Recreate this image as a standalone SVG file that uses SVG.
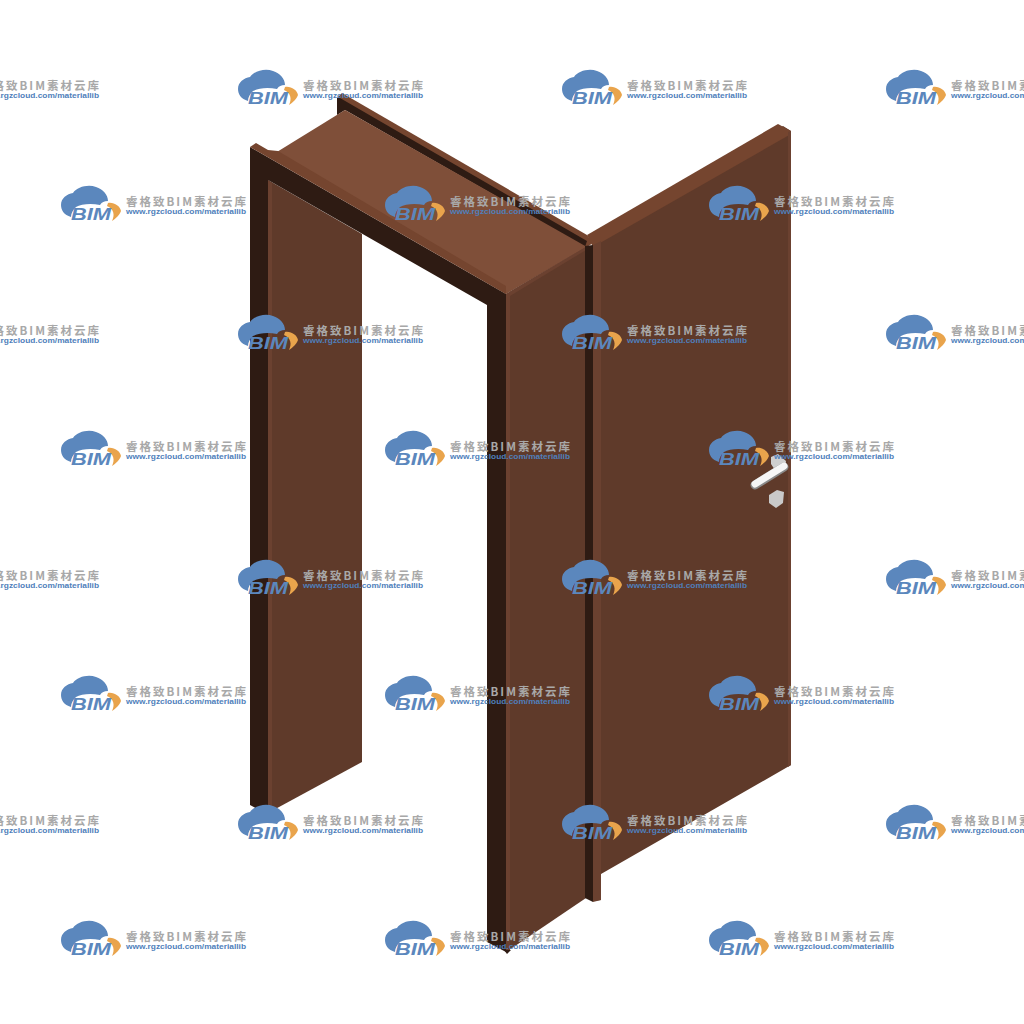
<svg xmlns="http://www.w3.org/2000/svg" xmlns:xlink="http://www.w3.org/1999/xlink" width="1024" height="1024" viewBox="0 0 1024 1024">
<style>
.dark{fill:#2e1b13}.side{fill:#5f3a2a}.top{fill:#7f4f39}.rim{fill:#75452f}.edge{fill:#6b4130}
.cn{font-family:"Noto Sans CJK SC","Liberation Sans",sans-serif;font-size:11.500px;font-weight:700;fill:#a8a8a8}
.url{font-family:"Liberation Sans",sans-serif;font-size:7.600px;font-weight:700;fill:#4f7fbb}
.bim{font-family:"Liberation Sans",sans-serif;font-size:16.500px;font-weight:700;font-style:italic;fill:#5b87bd}
</style>
<defs>
<g id="wm">
<path d="M10 31C3 29 0 24 0 19C0 12 6 8 12 7C16 1 27-2 35 1C42 3 47 9 47 15C43 15 41 16 39 19C30 17 20 18 15 21C12 24 10 27 10 31Z" fill="#5b87bd"/>
<path d="M47 17C53 16 59 20 60 25C58 30 55 32 51 35C54 29 53 23 46 20Z" fill="#e9a44c"/>
<text class="bim" x="10" y="33.500" textLength="40" lengthAdjust="spacingAndGlyphs">BIM</text>
<text class="cn" x="65" y="20" textLength="120" lengthAdjust="spacing">睿格致BIM素材云库</text>
<text class="url" x="65" y="28" textLength="120" lengthAdjust="spacingAndGlyphs">www.rgzcloud.com/materiallib</text>
</g>
</defs>
<rect width="1024" height="1024" fill="#fff"/>
<g id="door-frame">
<path class="rim" d="M337 98L342 93L587 235L593 243L587 247L585 246Z"/>
<path class="dark" d="M337 98L340 98L587 241L585 247L345 110L337 115Z"/>
<path class="top" d="M272 155L345 110L587 247L506 294Z"/>
<path class="side" d="M268 180L362 234L362 762L268 813Z"/>
<path class="edge" d="M268 180L272 183L272 811L268 813Z"/>
<path class="dark" d="M250 147L506 294L506 952L487 942L487 305L268 180L268 815L250 805Z"/>
<path class="rim" d="M250 147L256 143L268 150L278 151L506 286L506 294Z"/>
<path class="side" d="M506 294L586 247L586 898L506 952Z"/>
<path class="edge" d="M506 294L586 247L586 250L510 296L510 950L506 952Z"/>
</g>
<g id="door-leaf">
<path class="side" d="M593 243L783 126L791 131L791 765L601 874L601 900L593 901Z"/>
<path class="rim" d="M587 235L778 124L791 131L791 134L593 247Z"/>
<path class="dark" d="M585 246L593 245L593 902L585 898Z"/>
<path class="edge" d="M593 245L601 241L601 900L593 902Z"/>
<path class="edge" d="M788 132L791 131L791 765L788 767Z"/>
<path class="dark" d="M504 950L507 954L511 950Z"/>
</g>
<g id="handle">
<path d="M771 457L778 454L786 461L785 468L775 470L771 464Z" fill="#cfcfcf"/>
<path d="M755 485L784 467" fill="none" stroke="#8a8a8a" stroke-width="9" stroke-linecap="round"/>
<path d="M755 484L784 466" fill="none" stroke="#f6f6f6" stroke-width="7" stroke-linecap="round"/>
<path d="M769 495L777 490L784 492L783 503L776 508L769 503Z" fill="#c9c9c9"/>
</g>
<g id="watermarks">
<use xlink:href="#wm" href="#wm" x="-86" y="70"/><use href="#wm" x="238" y="70"/><use href="#wm" x="562" y="70"/><use href="#wm" x="886" y="70"/>
<use href="#wm" x="61" y="186"/><use href="#wm" x="385" y="186"/><use href="#wm" x="709" y="186"/>
<use href="#wm" x="-86" y="315"/><use href="#wm" x="238" y="315"/><use href="#wm" x="562" y="315"/><use href="#wm" x="886" y="315"/>
<use href="#wm" x="61" y="431"/><use href="#wm" x="385" y="431"/><use href="#wm" x="709" y="431"/>
<use href="#wm" x="-86" y="560"/><use href="#wm" x="238" y="560"/><use href="#wm" x="562" y="560"/><use href="#wm" x="886" y="560"/>
<use href="#wm" x="61" y="676"/><use href="#wm" x="385" y="676"/><use href="#wm" x="709" y="676"/>
<use href="#wm" x="-86" y="805"/><use href="#wm" x="238" y="805"/><use href="#wm" x="562" y="805"/><use href="#wm" x="886" y="805"/>
<use href="#wm" x="61" y="921"/><use href="#wm" x="385" y="921"/><use href="#wm" x="709" y="921"/>
</g>
</svg>
